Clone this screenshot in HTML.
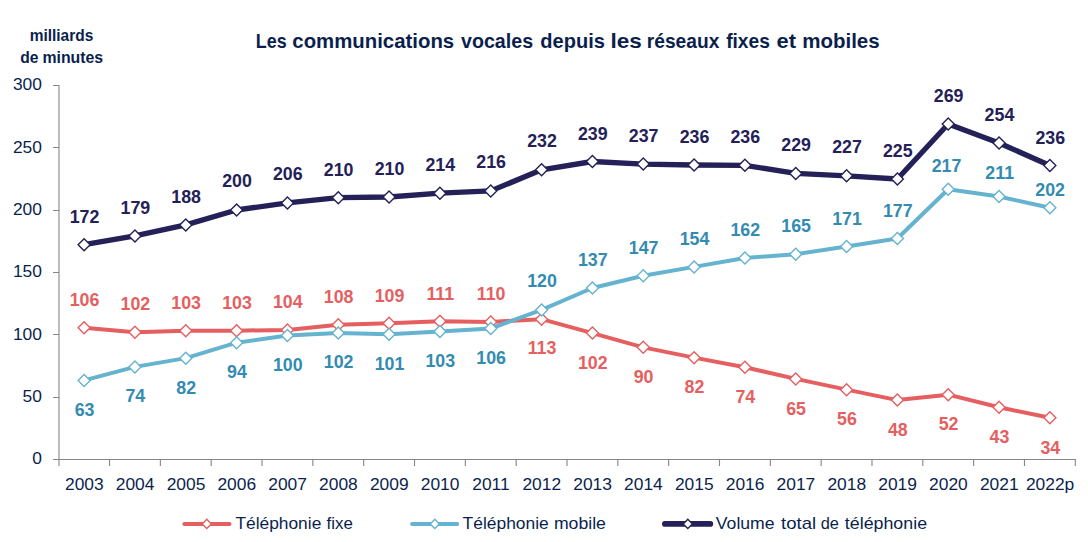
<!DOCTYPE html>
<html><head><meta charset="utf-8"><title>Les communications vocales</title>
<style>html,body{margin:0;padding:0;background:#fff;}body{width:1088px;height:542px;overflow:hidden;font-family:"Liberation Sans",sans-serif;}svg{display:block;}text{font-family:"Liberation Sans",sans-serif;}</style></head><body>
<svg width="1088" height="542" viewBox="0 0 1088 542">
<rect width="1088" height="542" fill="#fff"/>
<text x="255.86" y="47.65" font-size="20.80" fill="#0b1f4e" font-weight="bold" textLength="30.81" lengthAdjust="spacingAndGlyphs">Les</text>
<text x="292.37" y="47.65" font-size="20.80" fill="#0b1f4e" font-weight="bold" textLength="161.81" lengthAdjust="spacingAndGlyphs">communications</text>
<text x="461.04" y="47.65" font-size="20.80" fill="#0b1f4e" font-weight="bold" textLength="72.08" lengthAdjust="spacingAndGlyphs">vocales</text>
<text x="540.36" y="47.65" font-size="20.80" fill="#0b1f4e" font-weight="bold" textLength="64.62" lengthAdjust="spacingAndGlyphs">depuis</text>
<text x="610.54" y="47.65" font-size="20.80" fill="#0b1f4e" font-weight="bold" textLength="31.36" lengthAdjust="spacingAndGlyphs">les</text>
<text x="646.82" y="47.65" font-size="20.80" fill="#0b1f4e" font-weight="bold" textLength="72.55" lengthAdjust="spacingAndGlyphs">réseaux</text>
<text x="726.15" y="47.65" font-size="20.80" fill="#0b1f4e" font-weight="bold" textLength="43.75" lengthAdjust="spacingAndGlyphs">fixes</text>
<text x="776.57" y="47.65" font-size="20.80" fill="#0b1f4e" font-weight="bold" textLength="19.44" lengthAdjust="spacingAndGlyphs">et</text>
<text x="802.20" y="47.65" font-size="20.80" fill="#0b1f4e" font-weight="bold" textLength="77.43" lengthAdjust="spacingAndGlyphs">mobiles</text>
<text x="29.64" y="40.90" font-size="15.60" fill="#0b1f4e" font-weight="bold" textLength="63.61" lengthAdjust="spacingAndGlyphs">milliards</text>
<text x="20.34" y="62.50" font-size="15.60" fill="#0b1f4e" font-weight="bold" textLength="18.23" lengthAdjust="spacingAndGlyphs">de</text>
<text x="42.42" y="62.50" font-size="15.60" fill="#0b1f4e" font-weight="bold" textLength="60.78" lengthAdjust="spacingAndGlyphs">minutes</text>
<text x="235.43" y="529.30" font-size="17.00" fill="#0b1f4e" textLength="85.86" lengthAdjust="spacingAndGlyphs">Téléphonie</text>
<text x="326.61" y="529.30" font-size="17.00" fill="#0b1f4e" textLength="26.28" lengthAdjust="spacingAndGlyphs">fixe</text>
<text x="462.64" y="529.30" font-size="17.00" fill="#0b1f4e" textLength="86.10" lengthAdjust="spacingAndGlyphs">Téléphonie</text>
<text x="553.90" y="529.30" font-size="17.00" fill="#0b1f4e" textLength="52.02" lengthAdjust="spacingAndGlyphs">mobile</text>
<text x="715.81" y="529.30" font-size="17.00" fill="#0b1f4e" textLength="58.77" lengthAdjust="spacingAndGlyphs">Volume</text>
<text x="781.05" y="529.30" font-size="17.00" fill="#0b1f4e" textLength="35.01" lengthAdjust="spacingAndGlyphs">total</text>
<text x="820.65" y="529.30" font-size="17.00" fill="#0b1f4e" textLength="18.23" lengthAdjust="spacingAndGlyphs">de</text>
<text x="844.84" y="529.30" font-size="17.00" fill="#0b1f4e" textLength="82.22" lengthAdjust="spacingAndGlyphs">téléphonie</text>
<g fill="#868686">
<rect x="58" y="85" width="2" height="381" fill="#bdbdbd"/>
<rect x="53" y="459" width="1022.9" height="1"/>
<rect x="53" y="85" width="6" height="1"/>
<rect x="53" y="147" width="6" height="1"/>
<rect x="53" y="210" width="6" height="1"/>
<rect x="53" y="272" width="6" height="1"/>
<rect x="53" y="334" width="6" height="1"/>
<rect x="53" y="397" width="6" height="1"/>
<rect x="108.98" y="460" width="1.1" height="6"/>
<rect x="159.81" y="460" width="1.1" height="6"/>
<rect x="210.64" y="460" width="1.1" height="6"/>
<rect x="261.47" y="460" width="1.1" height="6"/>
<rect x="312.30" y="460" width="1.1" height="6"/>
<rect x="363.13" y="460" width="1.1" height="6"/>
<rect x="413.96" y="460" width="1.1" height="6"/>
<rect x="464.79" y="460" width="1.1" height="6"/>
<rect x="515.62" y="460" width="1.1" height="6"/>
<rect x="566.45" y="460" width="1.1" height="6"/>
<rect x="617.28" y="460" width="1.1" height="6"/>
<rect x="668.11" y="460" width="1.1" height="6"/>
<rect x="718.94" y="460" width="1.1" height="6"/>
<rect x="769.77" y="460" width="1.1" height="6"/>
<rect x="820.60" y="460" width="1.1" height="6"/>
<rect x="871.43" y="460" width="1.1" height="6"/>
<rect x="922.26" y="460" width="1.1" height="6"/>
<rect x="973.09" y="460" width="1.1" height="6"/>
<rect x="1023.92" y="460" width="1.1" height="6"/>
<rect x="1074.75" y="460" width="1.1" height="6"/>
</g>
<text x="41.90" y="464.40" font-size="17.40" fill="#0b1f4e" text-anchor="end">0</text>
<text x="41.90" y="402.10" font-size="17.40" fill="#0b1f4e" text-anchor="end">50</text>
<text x="41.90" y="339.70" font-size="17.40" fill="#0b1f4e" text-anchor="end">100</text>
<text x="41.90" y="277.40" font-size="17.40" fill="#0b1f4e" text-anchor="end">150</text>
<text x="41.90" y="215.10" font-size="17.40" fill="#0b1f4e" text-anchor="end">200</text>
<text x="41.90" y="152.70" font-size="17.40" fill="#0b1f4e" text-anchor="end">250</text>
<text x="41.90" y="90.40" font-size="17.40" fill="#0b1f4e" text-anchor="end">300</text>
<text x="84.32" y="490.00" font-size="17.40" fill="#0b1f4e" text-anchor="middle">2003</text>
<text x="135.14" y="490.00" font-size="17.40" fill="#0b1f4e" text-anchor="middle">2004</text>
<text x="185.97" y="490.00" font-size="17.40" fill="#0b1f4e" text-anchor="middle">2005</text>
<text x="236.81" y="490.00" font-size="17.40" fill="#0b1f4e" text-anchor="middle">2006</text>
<text x="287.63" y="490.00" font-size="17.40" fill="#0b1f4e" text-anchor="middle">2007</text>
<text x="338.46" y="490.00" font-size="17.40" fill="#0b1f4e" text-anchor="middle">2008</text>
<text x="389.29" y="490.00" font-size="17.40" fill="#0b1f4e" text-anchor="middle">2009</text>
<text x="440.12" y="490.00" font-size="17.40" fill="#0b1f4e" text-anchor="middle">2010</text>
<text x="490.95" y="490.00" font-size="17.40" fill="#0b1f4e" text-anchor="middle">2011</text>
<text x="541.79" y="490.00" font-size="17.40" fill="#0b1f4e" text-anchor="middle">2012</text>
<text x="592.62" y="490.00" font-size="17.40" fill="#0b1f4e" text-anchor="middle">2013</text>
<text x="643.45" y="490.00" font-size="17.40" fill="#0b1f4e" text-anchor="middle">2014</text>
<text x="694.28" y="490.00" font-size="17.40" fill="#0b1f4e" text-anchor="middle">2015</text>
<text x="745.11" y="490.00" font-size="17.40" fill="#0b1f4e" text-anchor="middle">2016</text>
<text x="795.94" y="490.00" font-size="17.40" fill="#0b1f4e" text-anchor="middle">2017</text>
<text x="846.77" y="490.00" font-size="17.40" fill="#0b1f4e" text-anchor="middle">2018</text>
<text x="897.60" y="490.00" font-size="17.40" fill="#0b1f4e" text-anchor="middle">2019</text>
<text x="948.43" y="490.00" font-size="17.40" fill="#0b1f4e" text-anchor="middle">2020</text>
<text x="999.26" y="490.00" font-size="17.40" fill="#0b1f4e" text-anchor="middle">2021</text>
<text x="1050.09" y="490.00" font-size="17.40" fill="#0b1f4e" text-anchor="middle">2022p</text>
<polyline points="84.12,327.80 134.94,332.15 185.77,330.65 236.61,330.65 287.44,329.90 338.26,324.65 389.09,323.30 439.92,321.25 490.75,321.90 541.59,319.15 592.42,333.10 643.25,347.35 694.08,357.65 744.90,367.25 795.74,378.90 846.57,389.65 897.39,400.10 948.23,394.65 999.06,407.30 1049.88,417.80" fill="none" stroke="#e55f60" stroke-width="4.00" stroke-linejoin="round" stroke-linecap="round"/>
<path d="M84.12 321.80L90.12 327.80L84.12 333.80L78.12 327.80Z" fill="#fff" stroke="#e55f60" stroke-width="1.4"/>
<path d="M134.94 326.15L140.94 332.15L134.94 338.15L128.94 332.15Z" fill="#fff" stroke="#e55f60" stroke-width="1.4"/>
<path d="M185.77 324.65L191.77 330.65L185.77 336.65L179.77 330.65Z" fill="#fff" stroke="#e55f60" stroke-width="1.4"/>
<path d="M236.61 324.65L242.61 330.65L236.61 336.65L230.61 330.65Z" fill="#fff" stroke="#e55f60" stroke-width="1.4"/>
<path d="M287.44 323.90L293.44 329.90L287.44 335.90L281.44 329.90Z" fill="#fff" stroke="#e55f60" stroke-width="1.4"/>
<path d="M338.26 318.65L344.26 324.65L338.26 330.65L332.26 324.65Z" fill="#fff" stroke="#e55f60" stroke-width="1.4"/>
<path d="M389.09 317.30L395.09 323.30L389.09 329.30L383.09 323.30Z" fill="#fff" stroke="#e55f60" stroke-width="1.4"/>
<path d="M439.92 315.25L445.92 321.25L439.92 327.25L433.92 321.25Z" fill="#fff" stroke="#e55f60" stroke-width="1.4"/>
<path d="M490.75 315.90L496.75 321.90L490.75 327.90L484.75 321.90Z" fill="#fff" stroke="#e55f60" stroke-width="1.4"/>
<path d="M541.59 313.15L547.59 319.15L541.59 325.15L535.59 319.15Z" fill="#fff" stroke="#e55f60" stroke-width="1.4"/>
<path d="M592.42 327.10L598.42 333.10L592.42 339.10L586.42 333.10Z" fill="#fff" stroke="#e55f60" stroke-width="1.4"/>
<path d="M643.25 341.35L649.25 347.35L643.25 353.35L637.25 347.35Z" fill="#fff" stroke="#e55f60" stroke-width="1.4"/>
<path d="M694.08 351.65L700.08 357.65L694.08 363.65L688.08 357.65Z" fill="#fff" stroke="#e55f60" stroke-width="1.4"/>
<path d="M744.90 361.25L750.90 367.25L744.90 373.25L738.90 367.25Z" fill="#fff" stroke="#e55f60" stroke-width="1.4"/>
<path d="M795.74 372.90L801.74 378.90L795.74 384.90L789.74 378.90Z" fill="#fff" stroke="#e55f60" stroke-width="1.4"/>
<path d="M846.57 383.65L852.57 389.65L846.57 395.65L840.57 389.65Z" fill="#fff" stroke="#e55f60" stroke-width="1.4"/>
<path d="M897.39 394.10L903.39 400.10L897.39 406.10L891.39 400.10Z" fill="#fff" stroke="#e55f60" stroke-width="1.4"/>
<path d="M948.23 388.65L954.23 394.65L948.23 400.65L942.23 394.65Z" fill="#fff" stroke="#e55f60" stroke-width="1.4"/>
<path d="M999.06 401.30L1005.06 407.30L999.06 413.30L993.06 407.30Z" fill="#fff" stroke="#e55f60" stroke-width="1.4"/>
<path d="M1049.88 411.80L1055.88 417.80L1049.88 423.80L1043.88 417.80Z" fill="#fff" stroke="#e55f60" stroke-width="1.4"/>
<polyline points="84.12,380.40 134.94,366.90 185.77,358.15 236.61,342.65 287.44,335.50 338.26,332.90 389.09,334.30 439.92,331.40 490.75,328.50 541.59,309.90 592.42,288.00 643.25,275.80 694.08,266.90 744.90,258.00 795.74,254.15 846.57,246.40 897.39,238.50 948.23,189.25 999.06,196.50 1049.88,207.75" fill="none" stroke="#65b3cf" stroke-width="4.00" stroke-linejoin="round" stroke-linecap="round"/>
<path d="M84.12 374.40L90.12 380.40L84.12 386.40L78.12 380.40Z" fill="#fff" stroke="#65b3cf" stroke-width="1.4"/>
<path d="M134.94 360.90L140.94 366.90L134.94 372.90L128.94 366.90Z" fill="#fff" stroke="#65b3cf" stroke-width="1.4"/>
<path d="M185.77 352.15L191.77 358.15L185.77 364.15L179.77 358.15Z" fill="#fff" stroke="#65b3cf" stroke-width="1.4"/>
<path d="M236.61 336.65L242.61 342.65L236.61 348.65L230.61 342.65Z" fill="#fff" stroke="#65b3cf" stroke-width="1.4"/>
<path d="M287.44 329.50L293.44 335.50L287.44 341.50L281.44 335.50Z" fill="#fff" stroke="#65b3cf" stroke-width="1.4"/>
<path d="M338.26 326.90L344.26 332.90L338.26 338.90L332.26 332.90Z" fill="#fff" stroke="#65b3cf" stroke-width="1.4"/>
<path d="M389.09 328.30L395.09 334.30L389.09 340.30L383.09 334.30Z" fill="#fff" stroke="#65b3cf" stroke-width="1.4"/>
<path d="M439.92 325.40L445.92 331.40L439.92 337.40L433.92 331.40Z" fill="#fff" stroke="#65b3cf" stroke-width="1.4"/>
<path d="M490.75 322.50L496.75 328.50L490.75 334.50L484.75 328.50Z" fill="#fff" stroke="#65b3cf" stroke-width="1.4"/>
<path d="M541.59 303.90L547.59 309.90L541.59 315.90L535.59 309.90Z" fill="#fff" stroke="#65b3cf" stroke-width="1.4"/>
<path d="M592.42 282.00L598.42 288.00L592.42 294.00L586.42 288.00Z" fill="#fff" stroke="#65b3cf" stroke-width="1.4"/>
<path d="M643.25 269.80L649.25 275.80L643.25 281.80L637.25 275.80Z" fill="#fff" stroke="#65b3cf" stroke-width="1.4"/>
<path d="M694.08 260.90L700.08 266.90L694.08 272.90L688.08 266.90Z" fill="#fff" stroke="#65b3cf" stroke-width="1.4"/>
<path d="M744.90 252.00L750.90 258.00L744.90 264.00L738.90 258.00Z" fill="#fff" stroke="#65b3cf" stroke-width="1.4"/>
<path d="M795.74 248.15L801.74 254.15L795.74 260.15L789.74 254.15Z" fill="#fff" stroke="#65b3cf" stroke-width="1.4"/>
<path d="M846.57 240.40L852.57 246.40L846.57 252.40L840.57 246.40Z" fill="#fff" stroke="#65b3cf" stroke-width="1.4"/>
<path d="M897.39 232.50L903.39 238.50L897.39 244.50L891.39 238.50Z" fill="#fff" stroke="#65b3cf" stroke-width="1.4"/>
<path d="M948.23 183.25L954.23 189.25L948.23 195.25L942.23 189.25Z" fill="#fff" stroke="#65b3cf" stroke-width="1.4"/>
<path d="M999.06 190.50L1005.06 196.50L999.06 202.50L993.06 196.50Z" fill="#fff" stroke="#65b3cf" stroke-width="1.4"/>
<path d="M1049.88 201.75L1055.88 207.75L1049.88 213.75L1043.88 207.75Z" fill="#fff" stroke="#65b3cf" stroke-width="1.4"/>
<polyline points="84.12,244.65 134.94,235.90 185.77,224.90 236.61,210.00 287.44,202.90 338.26,197.65 389.09,197.00 439.92,193.15 490.75,190.90 541.59,169.80 592.42,161.50 643.25,164.10 694.08,165.00 744.90,165.30 795.74,173.40 846.57,175.80 897.39,179.00 948.23,124.00 999.06,143.00 1049.88,165.50" fill="none" stroke="#232157" stroke-width="5.33" stroke-linejoin="round" stroke-linecap="round"/>
<path d="M84.12 238.65L90.12 244.65L84.12 250.65L78.12 244.65Z" fill="#fff" stroke="#232157" stroke-width="1.4"/>
<path d="M134.94 229.90L140.94 235.90L134.94 241.90L128.94 235.90Z" fill="#fff" stroke="#232157" stroke-width="1.4"/>
<path d="M185.77 218.90L191.77 224.90L185.77 230.90L179.77 224.90Z" fill="#fff" stroke="#232157" stroke-width="1.4"/>
<path d="M236.61 204.00L242.61 210.00L236.61 216.00L230.61 210.00Z" fill="#fff" stroke="#232157" stroke-width="1.4"/>
<path d="M287.44 196.90L293.44 202.90L287.44 208.90L281.44 202.90Z" fill="#fff" stroke="#232157" stroke-width="1.4"/>
<path d="M338.26 191.65L344.26 197.65L338.26 203.65L332.26 197.65Z" fill="#fff" stroke="#232157" stroke-width="1.4"/>
<path d="M389.09 191.00L395.09 197.00L389.09 203.00L383.09 197.00Z" fill="#fff" stroke="#232157" stroke-width="1.4"/>
<path d="M439.92 187.15L445.92 193.15L439.92 199.15L433.92 193.15Z" fill="#fff" stroke="#232157" stroke-width="1.4"/>
<path d="M490.75 184.90L496.75 190.90L490.75 196.90L484.75 190.90Z" fill="#fff" stroke="#232157" stroke-width="1.4"/>
<path d="M541.59 163.80L547.59 169.80L541.59 175.80L535.59 169.80Z" fill="#fff" stroke="#232157" stroke-width="1.4"/>
<path d="M592.42 155.50L598.42 161.50L592.42 167.50L586.42 161.50Z" fill="#fff" stroke="#232157" stroke-width="1.4"/>
<path d="M643.25 158.10L649.25 164.10L643.25 170.10L637.25 164.10Z" fill="#fff" stroke="#232157" stroke-width="1.4"/>
<path d="M694.08 159.00L700.08 165.00L694.08 171.00L688.08 165.00Z" fill="#fff" stroke="#232157" stroke-width="1.4"/>
<path d="M744.90 159.30L750.90 165.30L744.90 171.30L738.90 165.30Z" fill="#fff" stroke="#232157" stroke-width="1.4"/>
<path d="M795.74 167.40L801.74 173.40L795.74 179.40L789.74 173.40Z" fill="#fff" stroke="#232157" stroke-width="1.4"/>
<path d="M846.57 169.80L852.57 175.80L846.57 181.80L840.57 175.80Z" fill="#fff" stroke="#232157" stroke-width="1.4"/>
<path d="M897.39 173.00L903.39 179.00L897.39 185.00L891.39 179.00Z" fill="#fff" stroke="#232157" stroke-width="1.4"/>
<path d="M948.23 118.00L954.23 124.00L948.23 130.00L942.23 124.00Z" fill="#fff" stroke="#232157" stroke-width="1.4"/>
<path d="M999.06 137.00L1005.06 143.00L999.06 149.00L993.06 143.00Z" fill="#fff" stroke="#232157" stroke-width="1.4"/>
<path d="M1049.88 159.50L1055.88 165.50L1049.88 171.50L1043.88 165.50Z" fill="#fff" stroke="#232157" stroke-width="1.4"/>
<text x="84.52" y="223.35" font-size="17.80" fill="#232157" text-anchor="middle" font-weight="bold">172</text>
<text x="135.34" y="213.85" font-size="17.80" fill="#232157" text-anchor="middle" font-weight="bold">179</text>
<text x="186.17" y="202.85" font-size="17.80" fill="#232157" text-anchor="middle" font-weight="bold">188</text>
<text x="237.01" y="187.45" font-size="17.80" fill="#232157" text-anchor="middle" font-weight="bold">200</text>
<text x="287.83" y="180.35" font-size="17.80" fill="#232157" text-anchor="middle" font-weight="bold">206</text>
<text x="338.66" y="175.85" font-size="17.80" fill="#232157" text-anchor="middle" font-weight="bold">210</text>
<text x="389.49" y="174.70" font-size="17.80" fill="#232157" text-anchor="middle" font-weight="bold">210</text>
<text x="440.32" y="170.85" font-size="17.80" fill="#232157" text-anchor="middle" font-weight="bold">214</text>
<text x="491.15" y="168.35" font-size="17.80" fill="#232157" text-anchor="middle" font-weight="bold">216</text>
<text x="541.99" y="147.25" font-size="17.80" fill="#232157" text-anchor="middle" font-weight="bold">232</text>
<text x="592.82" y="139.70" font-size="17.80" fill="#232157" text-anchor="middle" font-weight="bold">239</text>
<text x="643.64" y="142.30" font-size="17.80" fill="#232157" text-anchor="middle" font-weight="bold">237</text>
<text x="694.48" y="142.70" font-size="17.80" fill="#232157" text-anchor="middle" font-weight="bold">236</text>
<text x="745.30" y="143.00" font-size="17.80" fill="#232157" text-anchor="middle" font-weight="bold">236</text>
<text x="796.13" y="151.35" font-size="17.80" fill="#232157" text-anchor="middle" font-weight="bold">229</text>
<text x="846.97" y="153.25" font-size="17.80" fill="#232157" text-anchor="middle" font-weight="bold">227</text>
<text x="897.79" y="156.95" font-size="17.80" fill="#232157" text-anchor="middle" font-weight="bold">225</text>
<text x="948.62" y="101.95" font-size="17.80" fill="#232157" text-anchor="middle" font-weight="bold">269</text>
<text x="999.46" y="120.70" font-size="17.80" fill="#232157" text-anchor="middle" font-weight="bold">254</text>
<text x="1050.29" y="143.70" font-size="17.80" fill="#232157" text-anchor="middle" font-weight="bold">236</text>
<text x="84.52" y="416.10" font-size="17.80" fill="#348bb2" text-anchor="middle" font-weight="bold">63</text>
<text x="135.34" y="401.85" font-size="17.80" fill="#348bb2" text-anchor="middle" font-weight="bold">74</text>
<text x="186.17" y="393.85" font-size="17.80" fill="#348bb2" text-anchor="middle" font-weight="bold">82</text>
<text x="237.01" y="378.35" font-size="17.80" fill="#348bb2" text-anchor="middle" font-weight="bold">94</text>
<text x="287.83" y="370.70" font-size="17.80" fill="#348bb2" text-anchor="middle" font-weight="bold">100</text>
<text x="338.66" y="368.35" font-size="17.80" fill="#348bb2" text-anchor="middle" font-weight="bold">102</text>
<text x="389.49" y="369.75" font-size="17.80" fill="#348bb2" text-anchor="middle" font-weight="bold">101</text>
<text x="440.32" y="366.60" font-size="17.80" fill="#348bb2" text-anchor="middle" font-weight="bold">103</text>
<text x="491.15" y="363.70" font-size="17.80" fill="#348bb2" text-anchor="middle" font-weight="bold">106</text>
<text x="541.99" y="287.35" font-size="17.80" fill="#348bb2" text-anchor="middle" font-weight="bold">120</text>
<text x="592.82" y="265.95" font-size="17.80" fill="#348bb2" text-anchor="middle" font-weight="bold">137</text>
<text x="643.64" y="253.75" font-size="17.80" fill="#348bb2" text-anchor="middle" font-weight="bold">147</text>
<text x="694.48" y="244.60" font-size="17.80" fill="#348bb2" text-anchor="middle" font-weight="bold">154</text>
<text x="745.30" y="235.70" font-size="17.80" fill="#348bb2" text-anchor="middle" font-weight="bold">162</text>
<text x="796.13" y="232.10" font-size="17.80" fill="#348bb2" text-anchor="middle" font-weight="bold">165</text>
<text x="846.97" y="225.10" font-size="17.80" fill="#348bb2" text-anchor="middle" font-weight="bold">171</text>
<text x="897.79" y="217.20" font-size="17.80" fill="#348bb2" text-anchor="middle" font-weight="bold">177</text>
<text x="946.52" y="172.25" font-size="17.80" fill="#348bb2" text-anchor="middle" font-weight="bold">217</text>
<text x="999.71" y="179.00" font-size="17.80" fill="#348bb2" text-anchor="middle" font-weight="bold">211</text>
<text x="1050.09" y="195.75" font-size="17.80" fill="#348bb2" text-anchor="middle" font-weight="bold">202</text>
<text x="84.52" y="305.75" font-size="17.80" fill="#e55f60" text-anchor="middle" font-weight="bold">106</text>
<text x="135.34" y="309.85" font-size="17.80" fill="#e55f60" text-anchor="middle" font-weight="bold">102</text>
<text x="186.17" y="308.85" font-size="17.80" fill="#e55f60" text-anchor="middle" font-weight="bold">103</text>
<text x="237.01" y="308.85" font-size="17.80" fill="#e55f60" text-anchor="middle" font-weight="bold">103</text>
<text x="287.83" y="307.85" font-size="17.80" fill="#e55f60" text-anchor="middle" font-weight="bold">104</text>
<text x="338.66" y="302.85" font-size="17.80" fill="#e55f60" text-anchor="middle" font-weight="bold">108</text>
<text x="389.49" y="301.50" font-size="17.80" fill="#e55f60" text-anchor="middle" font-weight="bold">109</text>
<text x="440.32" y="299.85" font-size="17.80" fill="#e55f60" text-anchor="middle" font-weight="bold">111</text>
<text x="491.15" y="299.60" font-size="17.80" fill="#e55f60" text-anchor="middle" font-weight="bold">110</text>
<text x="541.99" y="354.35" font-size="17.80" fill="#e55f60" text-anchor="middle" font-weight="bold">113</text>
<text x="592.82" y="368.80" font-size="17.80" fill="#e55f60" text-anchor="middle" font-weight="bold">102</text>
<text x="643.64" y="383.35" font-size="17.80" fill="#e55f60" text-anchor="middle" font-weight="bold">90</text>
<text x="694.48" y="393.35" font-size="17.80" fill="#e55f60" text-anchor="middle" font-weight="bold">82</text>
<text x="745.30" y="403.35" font-size="17.80" fill="#e55f60" text-anchor="middle" font-weight="bold">74</text>
<text x="796.13" y="415.00" font-size="17.80" fill="#e55f60" text-anchor="middle" font-weight="bold">65</text>
<text x="846.97" y="425.35" font-size="17.80" fill="#e55f60" text-anchor="middle" font-weight="bold">56</text>
<text x="897.79" y="436.20" font-size="17.80" fill="#e55f60" text-anchor="middle" font-weight="bold">48</text>
<text x="948.62" y="430.35" font-size="17.80" fill="#e55f60" text-anchor="middle" font-weight="bold">52</text>
<text x="999.46" y="443.00" font-size="17.80" fill="#e55f60" text-anchor="middle" font-weight="bold">43</text>
<text x="1050.29" y="454.10" font-size="17.80" fill="#e55f60" text-anchor="middle" font-weight="bold">34</text>
<line x1="184.3" y1="523.9" x2="229.5" y2="523.9" stroke="#e55f60" stroke-width="4.00" stroke-linecap="round"/>
<path d="M206.8 519.3L211.4 523.9L206.8 528.5L202.2 523.9Z" fill="#fff" stroke="#e55f60" stroke-width="1.4"/>
<line x1="412.1" y1="523.9" x2="457.2" y2="523.9" stroke="#65b3cf" stroke-width="4.00" stroke-linecap="round"/>
<path d="M434.8 519.3L439.4 523.9L434.8 528.5L430.2 523.9Z" fill="#fff" stroke="#65b3cf" stroke-width="1.4"/>
<line x1="664.8" y1="523.9" x2="710.4" y2="523.9" stroke="#232157" stroke-width="5.60" stroke-linecap="round"/>
<path d="M687.8 519.3L692.4 523.9L687.8 528.5L683.2 523.9Z" fill="#fff" stroke="#232157" stroke-width="1.4"/>
</svg></body></html>
